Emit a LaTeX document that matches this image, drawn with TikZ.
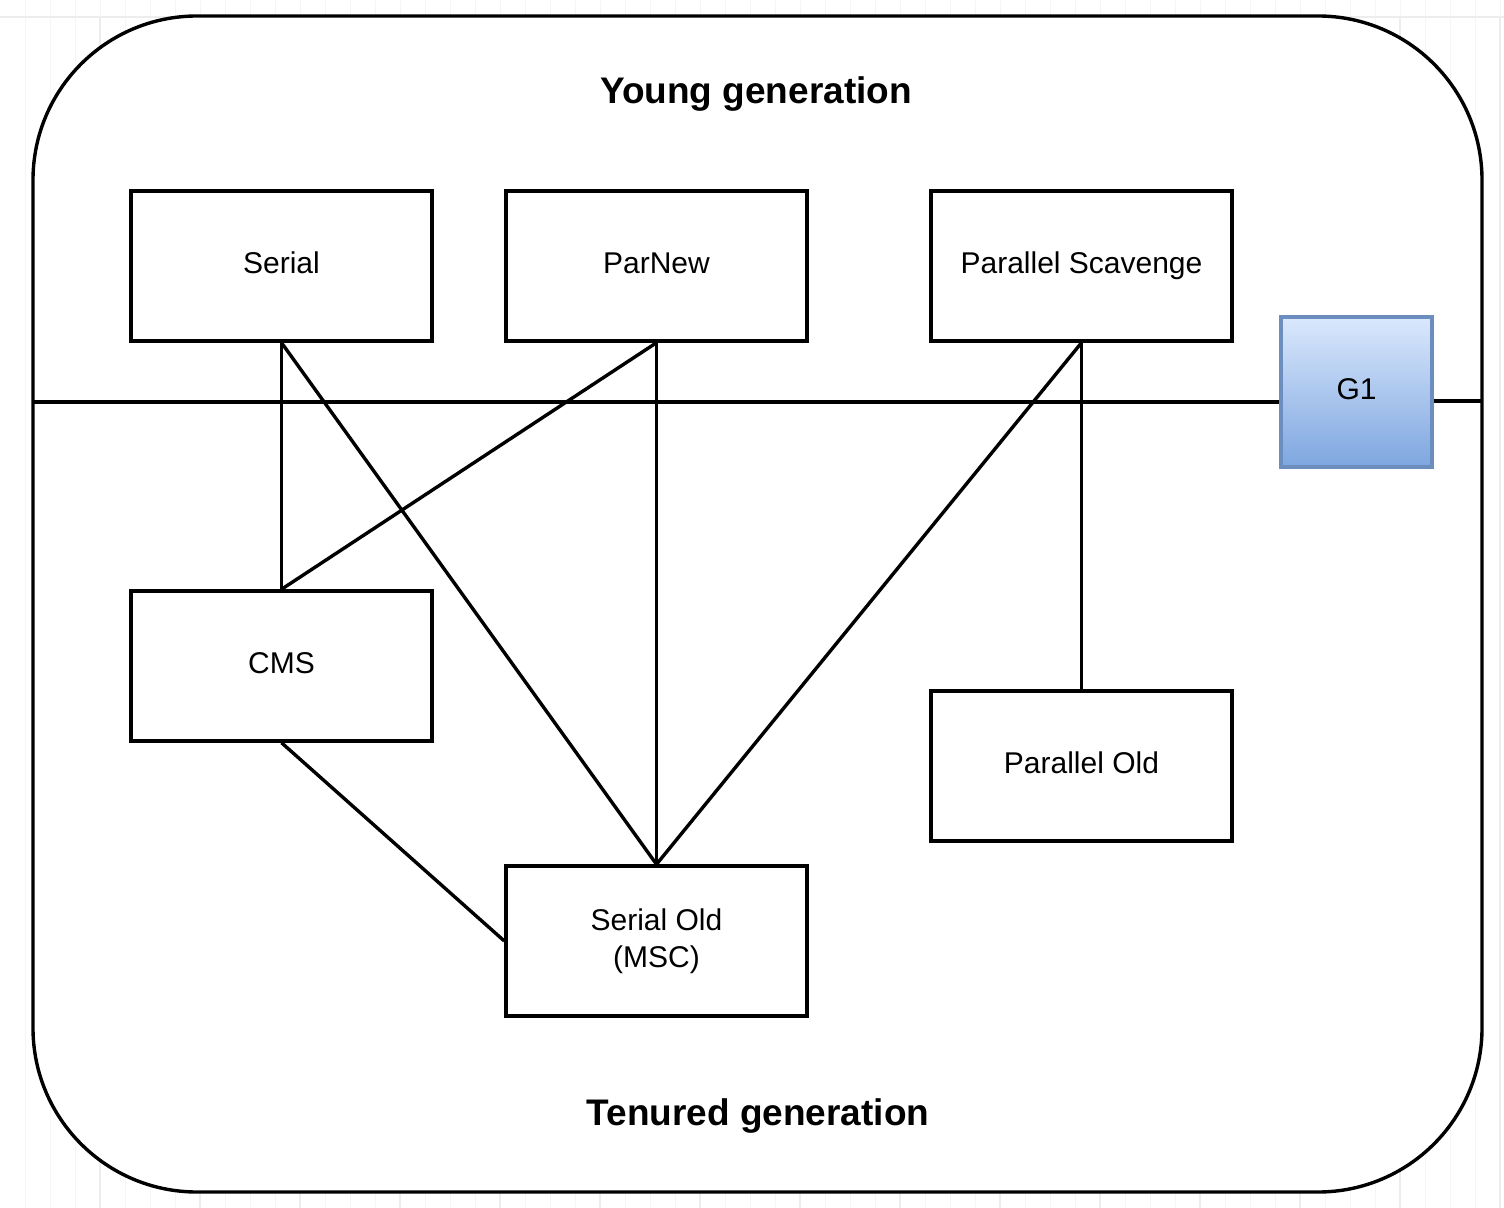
\documentclass[tikz,border=0pt]{standalone}
\usepackage{fontspec}
\setmainfont{Liberation Sans}
\begin{document}
\begin{tikzpicture}[x=0.5pt,y=-0.5pt,
  boxbase/.style={draw=black,line width=1.7pt,fill=white,minimum width=150.5pt,minimum height=75pt,inner sep=0pt,font=\fontsize{15}{18.5}\selectfont,align=center},
  box/.style={boxbase,text height=10.5pt,text depth=2.75pt},
  link/.style={line width=1.7pt,black},
  title/.style={font=\fontsize{18.5}{22}\selectfont\bfseries}]
\useasboundingbox (0,0) rectangle (1504,1208);
\fill[white] (0,0) rectangle (1504,1208);
\draw[gray!8,line width=0.5pt] (7,-8) grid[step=25] (1504,1208);
\draw[gray!14,line width=0.6pt] (82,17) grid[step=100] (1504,1208);
\draw[gray!14,line width=0.6pt] (0,17) -- (1504,17);
% outer container
\draw[line width=1.7pt,fill=white,rounded corners=82pt] (33,16) rectangle (1482,1192);
\node[title] (young) at (756,94) {Young generation};
\node[title] (tenured) at (758,1116) {Tenured generation};
% boxes
\node[box] (serial) at (281.5,266) {Serial};
\node[box] (parnew) at (656.5,266) {ParNew};
\node[box] (ps) at (1081.5,266) {Parallel Scavenge};
\node[box] (cms) at (281.5,666) {CMS};
\node[box] (pold) at (1081.5,766) {Parallel Old};
\node[boxbase] (sold) at (656.5,941) {Serial Old\\(MSC)};
% G1
\node[draw={rgb,255:red,108;green,142;blue,191},line width=1.7pt,minimum width=75.5pt,minimum height=75pt,inner sep=0pt,
  top color={rgb,255:red,218;green,232;blue,252},bottom color={rgb,255:red,126;green,166;blue,224},
  font=\fontsize{15}{18}\selectfont,text height=10.5pt,text depth=2.75pt] (g1) at (1356.5,392) {G1};
% divider
\coordinate (dl) at (33,402);
\coordinate (dr) at (1482,401);
\draw[link] (dl) -- (dl -| g1.west);
\draw[link] (dr -| g1.east) -- (dr);
% connectors
\draw[link] (serial.south) -- (cms.north);
\draw[link] (serial.south) -- (sold.north);
\draw[link] (parnew.south) -- (cms.north);
\draw[link] (parnew.south) -- (sold.north);
\draw[link] (ps.south) -- (sold.north);
\draw[link] (ps.south) -- (pold.north);
\draw[link] (cms.south) -- (sold.west);
\end{tikzpicture}
\end{document}
